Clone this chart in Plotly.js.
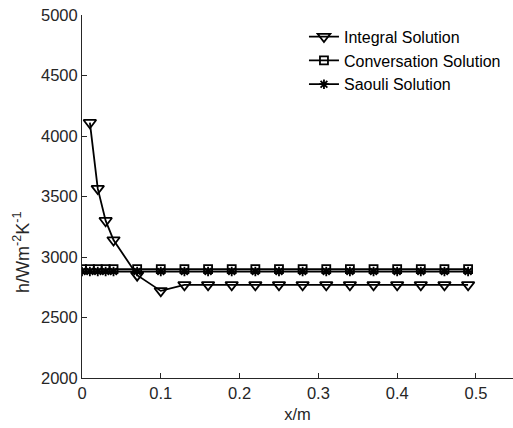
<!DOCTYPE html>
<html>
<head>
<meta charset="utf-8">
<script src="https://cdn.plot.ly/plotly-3.0.1.min.js"></script>
<style>html,body{margin:0;padding:0;background:#fff}</style>
</head>
<body>
<div id="chart" style="width:513px;height:428px"></div>
<script>
const xIntegral = [0.01,0.02,0.03,0.04,0.07,0.10,0.13,0.16,0.19,0.22,0.25,0.28,0.31,0.34,0.37,0.40,0.43,0.46,0.49];
const yIntegral = [4110,3565,3300,3140,2850,2720,2770,2770,2770,2770,2770,2770,2770,2770,2770,2770,2770,2770,2770];
const xConv = [0,0.01,0.02,0.03,0.04,0.07,0.10,0.13,0.16,0.19,0.22,0.25,0.28,0.31,0.34,0.37,0.40,0.43,0.46,0.49];
const yConv = [2900,2900,2900,2900,2900,2900,2900,2900,2900,2900,2900,2900,2900,2900,2900,2900,2900,2900,2900,2900];
const xSaouli = xConv;
const ySaouli = [2880,2880,2880,2880,2880,2880,2880,2880,2880,2880,2880,2880,2880,2880,2880,2880,2880,2880,2880,2880];
const names = ['Integral Solution','Conversation Solution','Saouli Solution'];
const xTicks = [0,0.1,0.2,0.3,0.4,0.5];
const xTickText = ['0','0.1','0.2','0.3','0.4','0.5'];
const yTicks = [2000,2500,3000,3500,4000,4500,5000];
const yTitle = 'h/Wm<sup>-2</sup>K<sup>-1</sup>';

const lineStyle = {color:'#000', width:1.8};
const traces = [
  {x:xIntegral, y:yIntegral, name:names[0], mode:'lines+markers', line:lineStyle,
   marker:{symbol:'triangle-down-open', size:11, color:'#000', line:{width:1.8}}},
  {x:xConv, y:yConv, name:names[1], mode:'lines+markers', line:lineStyle,
   marker:{symbol:'square-open', size:8, color:'#000', line:{width:1.8}}},
  {x:xSaouli, y:ySaouli, name:names[2], mode:'lines+markers', line:lineStyle,
   marker:{symbol:'asterisk-open', size:8, color:'#000', line:{width:1.8, color:'#000'}}}
];
const fam = 'Liberation Sans, Arial, sans-serif';
const tickFont = {family:fam, size:16.5, color:'#262626'};
const titleFont = {family:fam, size:16.5, color:'#262626'};
const yTitleFont = {family:fam, size:18, color:'#262626'};
const layout = {
  width:513, height:428,
  margin:{l:82, r:0, t:15, b:50},
  paper_bgcolor:'#fff', plot_bgcolor:'#fff',
  font:tickFont,
  showlegend:true,
  legend:{x:0.515, y:0.987, xanchor:'left', yanchor:'top', bgcolor:'rgba(0,0,0,0)',
          font:{family:fam, size:16, color:'#000'},
          tracegroupgap:0, itemwidth:30},
  xaxis:{range:[0,0.547], tickvals:xTicks, ticktext:xTickText, ticks:'inside', ticklen:5,
         tickcolor:'#262626', showline:true, linecolor:'#262626', linewidth:1, mirror:false,
         showgrid:false, zeroline:false, tickfont:tickFont,
         title:{text:'x/m', font:titleFont, standoff:7}},
  yaxis:{range:[2000,5000], tickvals:yTicks, ticks:'inside', ticklen:5,
         tickcolor:'#262626', showline:true, linecolor:'#262626', linewidth:1, mirror:false,
         showgrid:false, zeroline:false, tickfont:tickFont},
  annotations:[{text:yTitle, xref:'paper', yref:'y', x:-0.1415, y:3033, textangle:-90,
                showarrow:false, font:yTitleFont, xanchor:'center', yanchor:'middle'}]
};
Plotly.newPlot('chart', traces, layout, {displayModeBar:false, staticPlot:true});
</script>
</body>
</html>
